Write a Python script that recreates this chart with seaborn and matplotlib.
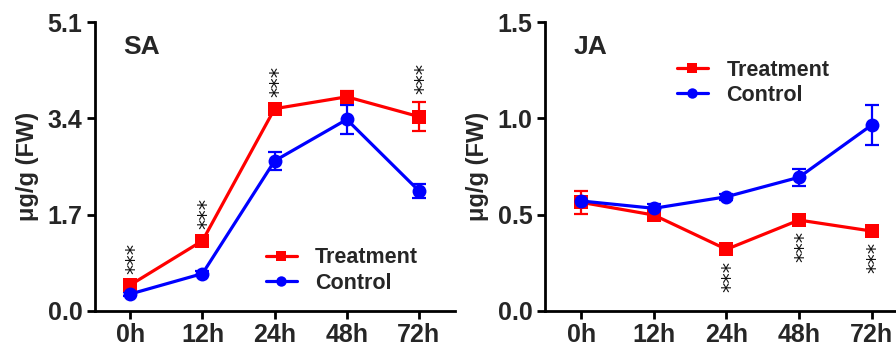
import numpy as np
import pandas as pd
import matplotlib
matplotlib.use("Agg")
import matplotlib.pyplot as plt
import seaborn as sns

times = ["0h", "12h", "24h", "48h", "72h"]
series_names = ["Treatment", "Control"]

sa_treat = [0.46, 1.24, 3.57, 3.78, 3.43]
sa_treat_err = [0.05, 0.06, 0.06, 0.10, 0.25]
sa_ctrl = [0.30, 0.66, 2.65, 3.38, 2.12]
sa_ctrl_err = [0.04, 0.04, 0.16, 0.25, 0.12]
sa_sig = [0, 1, 2, 4]          # "***" above Treatment

ja_treat = [0.564, 0.498, 0.32, 0.472, 0.415]
ja_treat_err = [0.058, 0.015, 0.015, 0.015, 0.02]
ja_ctrl = [0.571, 0.533, 0.593, 0.694, 0.965]
ja_ctrl_err = [0.02, 0.02, 0.015, 0.043, 0.105]
ja_sig = [2, 3, 4]             # "***" below Treatment

sa_ticks = [0.0, 1.7, 3.4, 5.1]
ja_ticks = [0.0, 0.5, 1.0, 1.5]
ylabel = "μg/g (FW)"

sns.set_theme(style="ticks")
plt.rcParams["font.family"] = ["Liberation Sans", "DejaVu Sans"]
plt.rcParams["font.weight"] = "bold"

RED = "#ff0000"
BLUE = "#0000ff"
palette = {"Treatment": RED, "Control": BLUE}
markers = {"Treatment": "s", "Control": "o"}

fig = plt.figure(figsize=(8.96, 3.48), dpi=100)
ax1 = fig.add_axes([95 / 896, 37 / 348, (455 - 95) / 896, 289 / 348])
ax2 = fig.add_axes([545 / 896, 37 / 348, (897 - 545) / 896, 289 / 348])


def panel(ax, treat, terr, ctrl, cerr, ticks, title, sig, sig_above, legend_loc):
    x = np.arange(len(times))
    df = pd.DataFrame({
        "x": np.concatenate([x, x]),
        "y": np.concatenate([treat, ctrl]),
        "series": ["Treatment"] * len(times) + ["Control"] * len(times),
    })
    sns.lineplot(data=df, x="x", y="y", hue="series", style="series",
                 palette=palette, markers=markers, dashes=False,
                 markersize=10, markeredgewidth=0, linewidth=2.3, ax=ax,
                 hue_order=series_names, style_order=series_names)
    for vals, errs, col in [(treat, terr, RED), (ctrl, cerr, BLUE)]:
        ax.errorbar(x, vals, yerr=errs, fmt="none", ecolor=col,
                    elinewidth=1.6, capsize=5, capthick=1.6, zorder=1)
    for i in sig:
        if sig_above:
            top = treat[i] + terr[i]
            ax.annotate("***", xy=(i, top), xytext=(3.6, 6),
                        textcoords="offset points", rotation=90,
                        ha="center", va="bottom", fontsize=15,
                        family="DejaVu Sans", fontweight="normal",
                        color="#111111")
        else:
            ax.annotate("***", xy=(i, treat[i]), xytext=(3.6, -8),
                        textcoords="offset points", rotation=90,
                        ha="center", va="top", fontsize=15,
                        family="DejaVu Sans", fontweight="normal",
                        color="#111111")
    ax.set_ylim(ticks[0], ticks[-1])
    ax.set_yticks(ticks)
    ax.set_yticklabels([f"{t:.1f}" for t in ticks])
    ax.set_xticks(x)
    ax.set_xticklabels(times)
    ax.set_xlabel("")
    ax.set_ylabel(ylabel, fontsize=17, fontweight="bold", labelpad=6)
    ax.tick_params(axis="both", labelsize=18, width=2, length=6,
                   direction="out", color="black", pad=3)
    for lab in ax.get_xticklabels() + ax.get_yticklabels():
        lab.set_fontweight("bold")
    for s in ["top", "right"]:
        ax.spines[s].set_visible(False)
    for s in ["left", "bottom"]:
        ax.spines[s].set_linewidth(2)
        ax.spines[s].set_color("black")
    ax.text(-0.1, ticks[-1] * 0.915, title, fontsize=19, fontweight="bold",
            ha="left", va="center")
    leg = ax.legend(loc=legend_loc, frameon=False, fontsize=15.5,
                    handlelength=1.45, handletextpad=0.85, markerscale=0.75,
                    labelspacing=0.2)
    for t in leg.get_texts():
        t.set_fontweight("bold")


panel(ax1, sa_treat, sa_treat_err, sa_ctrl, sa_ctrl_err, sa_ticks, "SA",
      sa_sig, True, (0.45, 0.03))
ax1.set_xlim(-0.49, 4.5)
panel(ax2, ja_treat, ja_treat_err, ja_ctrl, ja_ctrl_err, ja_ticks, "JA",
      ja_sig, False, (0.35, 0.68))
ax2.set_xlim(-0.5, 4.35)

fig.savefig("out.png", dpi=100)
